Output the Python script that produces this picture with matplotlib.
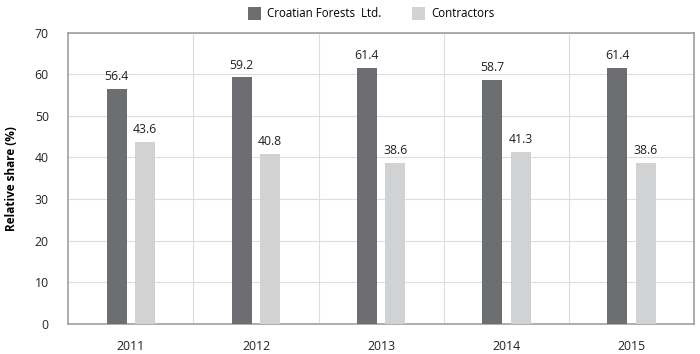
import numpy as np
import matplotlib.pyplot as plt

# Udio u radovima po godinama
godine = ['2011', '2012', '2013', '2014', '2015']
hrvatske_sume = [56.4, 59.2, 61.4, 58.7, 61.4]
izvodjaci = [43.6, 40.8, 38.6, 41.3, 38.6]

plt.rcParams['font.family'] = ['Open Sans', 'DejaVu Sans']

fig = plt.figure(figsize=(7, 3.54), dpi=100)
ax = fig.add_axes([68.3 / 700, 1 - 323.7 / 354, (694 - 68.3) / 700, (323.7 - 32.5) / 354])

x = np.arange(len(godine))
w = 0.16
b1 = ax.bar(x - 0.114, hrvatske_sume, w, color='#6d6e71', label='Croatian Forests  Ltd.', zorder=3)
b2 = ax.bar(x + 0.114, izvodjaci, w, color='#d1d2d4', label='Contractors', zorder=3)

for bars in (b1, b2):
    for r in bars:
        ax.text(r.get_x() + r.get_width() / 2, r.get_height() + 1.4, '{:.1f}'.format(r.get_height()),
                ha='center', va='bottom', fontsize=8.8, color='#222222')

ax.set_xlim(-0.5, len(godine) - 0.5)
ax.set_ylim(0, 70)
ax.set_yticks(range(0, 71, 10))
ax.set_xticks(x)
ax.set_xticklabels(godine)
ax.set_xticks(np.arange(0.5, len(godine) - 0.5, 1), minor=True)
ax.tick_params(axis='both', which='both', length=0, labelsize=8.8, colors='#222222')
ax.tick_params(axis='y', pad=14)
ax.tick_params(axis='x', pad=12)
ax.grid(axis='y', color='#dddddd', linewidth=0.8, zorder=0)
ax.grid(axis='x', which='minor', color='#dddddd', linewidth=0.8, zorder=0)

for s in ax.spines.values():
    s.set_color('#a0a0a0')
    s.set_linewidth(1.2)

ax.set_ylabel('Relative share (%)', fontsize=8.5, fontweight='bold')
ax.yaxis.set_label_coords(-0.08, 0.5)

fig.legend(loc='center', bbox_to_anchor=(0.53, 0.962), ncol=2, frameon=False, fontsize=8.3,
           handlelength=1.2, handleheight=1.4, columnspacing=2.6, handletextpad=0.5)

plt.savefig('out.png', dpi=100)
